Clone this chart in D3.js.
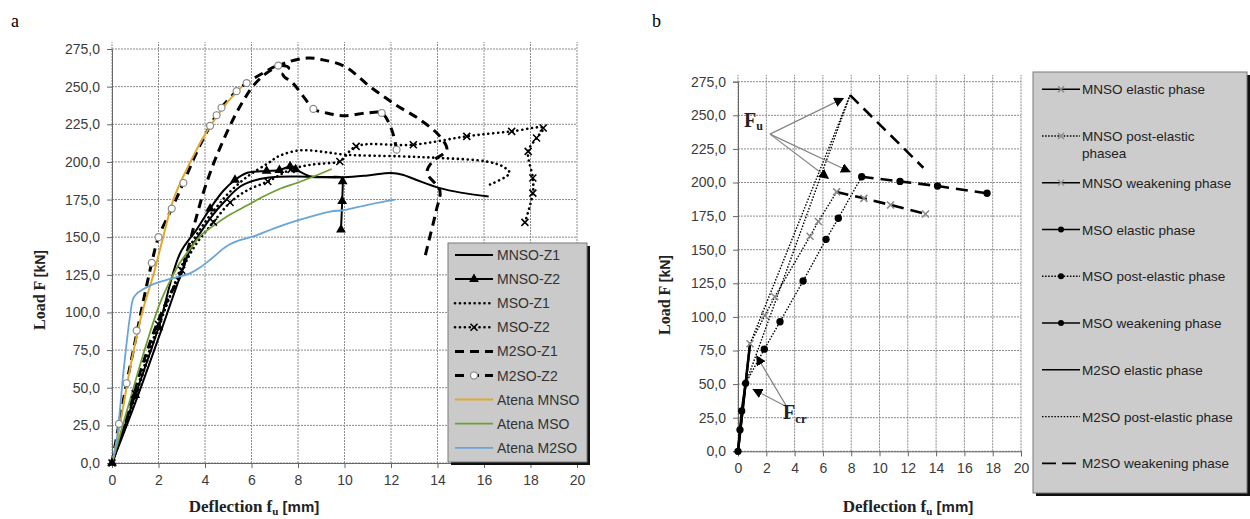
<!DOCTYPE html>
<html>
<head>
<meta charset="utf-8">
<title>Load - deflection curves</title>
<script src="https://cdn.jsdelivr.net/npm/d3@7"></script>
<style>
  body { margin: 0; background: #fff; }
  svg { display: block; font-family: "Liberation Sans", Arial, sans-serif; }
</style>
</head>
<body>
<svg id="chart" width="1250" height="519"></svg>
<script>
// ---- axis ticks ----
const xTicks = d3.range(0, 21, 2);
const yTicks = d3.range(0, 276, 25);

// ---- panel a : measured curves [deflection mm, load kN] ----
const mnsoZ1 = [[0,0],[1,40],[2,83],[3,127],[3.4,143],[3.8,153],[4.3,164],[4.8,173],[5.5,183.5],[6.2,188],[7,190],[8,190.3],[9,189.8],[10,189.8],[11,191],[12,192.6],[12.5,191.5],[13.1,188],[14.1,182.6],[15,179.6],[16.2,177]];
const mnsoZ2 = [[0,0],[1,45],[2,90],[2.92,139],[3.64,155],[4.22,169],[4.8,181],[5.29,188],[5.79,192.6],[6.65,194],[7.2,194.5],[7.66,197],[7.9,195],[8.5,190.5],[9.2,190],[9.88,189.5],[9.92,187],[9.9,174],[9.85,155]];
const mnsoZ2Marks = [[0,0],[1,45],[2,90],[4.22,169],[5.29,188],[6.65,194],[7.2,194.5],[7.66,197],[7.9,195],[9.92,187],[9.9,174],[9.85,155]];
const msoZ1 = [[0,0],[1,44],[2,90],[3,131],[3.5,148],[4,160],[4.5,170],[5,179],[5.8,190],[6.7,199],[7.2,204],[8.1,207.7],[9.4,206],[10,204.8],[12.4,203.7],[14.1,202.6],[16.1,200.3],[16.8,197],[17.1,192.6],[16.26,185]];
const msoZ2 = [[0,0],[1,46],[2,92],[3,128],[3.6,145],[4.36,160],[5.08,173],[5.8,181],[6.7,187],[7.7,195],[8.5,198],[9.4,199.3],[9.8,200.3],[10.5,210.3],[12.96,211.4],[15.26,217],[17.19,220.3],[18.55,222.5],[18.26,215.9],[17.9,207],[18.1,189.3],[18.1,179.3],[17.76,159.8]];
const msoZ2Marks = [[0,0],[1,46],[2,92],[3,128],[4.36,160],[5.08,173],[6.7,187],[7.7,195],[9.8,200.3],[10.5,210.3],[12.96,211.4],[15.26,217],[17.19,220.3],[18.55,222.5],[18.26,215.9],[17.9,207],[18.1,189.3],[18.1,179.3],[17.76,159.8]];
const m2soZ1 = [[0,0],[0.5,24],[1,50],[1.5,74],[2,95],[2.5,112],[2.92,124],[3.3,144],[3.64,164],[4,183],[4.5,204],[5.2,228],[5.7,242],[6.1,251],[6.65,259],[7.5,266],[8.4,269],[9,268],[10,263.5],[11.1,250],[12.2,238],[13.25,228],[14.1,217],[14.4,208],[13.8,200.5],[13.55,193],[14.1,181],[13.95,168],[13.7,152],[13.46,137]];
const m2soZ2 = [[0,0],[0.3,26],[0.63,53],[0.92,75],[1.3,104],[1.71,133],[2,150],[2.57,169],[3.07,186],[3.6,205],[4.22,224],[4.65,235],[5.36,247],[5.79,252.4],[6.5,259],[7.15,264],[7.6,262.5],[7.35,258],[7.8,252],[8.3,242],[8.66,235.2],[9.23,232.5],[10,230.7],[10.95,232.5],[11.6,232.5],[12.03,221.4],[12.24,208.1]];
const m2soZ2Marks = [[0.3,26],[0.63,53],[1.06,88],[1.71,133],[2,150],[2.57,169],[3.07,186],[4.22,224],[4.5,231],[4.71,236],[5.36,247],[5.79,252.4],[7.15,264],[8.66,235.2],[11.6,232.5],[12.24,208.1]];
// numerical (Atena) curves
const atenaMnso = [[0,0],[0.3,22],[0.6,48],[0.92,74],[1.3,100],[1.78,125],[2.2,150],[2.64,175],[3.21,195],[3.6,207],[4.07,220],[4.5,230],[4.93,239],[5.58,250]];
const atenaMso = [[0,0],[0.5,27],[1,54],[1.5,80],[2.06,106],[2.5,121],[2.92,133],[3.4,143],[3.78,150.5],[4.4,158],[5.08,165],[5.8,171],[6.51,177],[7.2,182],[7.94,186],[8.7,190.5],[9.45,195.3]];
const atenaM2so = [[0,0],[0.2,15],[0.49,60],[0.77,97],[0.92,109.5],[1.1,113],[1.35,115.5],[1.8,119],[2.35,121.7],[3.35,126],[3.8,130],[4.3,136],[4.93,144],[5.5,148],[6.08,150.5],[7,156],[8.09,161.6],[9.38,167],[10,168],[11,171.5],[12.17,174.9]];

// ---- panel b : phases ----
const mnsoElastic = [[0,0],[0.85,80]];
const mnsoPost = [[0.85,80],[1.9,101],[2.6,115],[5.09,160],[5.68,171],[6.97,193]];
const mnsoWeak = [[6.97,193],[8.9,188.2],[10.78,183.3],[13.25,176.6]];
const msoElastic = [[0,0],[0.14,16],[0.26,30],[0.54,50.6]];
const msoPost = [[0.54,50.6],[1.86,76],[2.97,96.4],[4.6,126.7],[6.22,157.7],[7.09,173.4],[8.74,204.3]];
const msoWeak = [[8.74,204.3],[11.45,200.8],[14.1,197.4],[17.6,192]];
const m2soElastic = [[0,0],[0.85,80]];
const m2soPost = [[0.85,80],[7.92,265]];
const m2soPostB = [[0.6,52],[7.92,265]];
const m2soWeak = [[7.92,265],[13.1,211]];
// annotation arrows: from label point to target [x, F]
const fuFrom = [2.26,236];
const fuTargets = [[7.44,262.6],[6.38,203.1],[7.92,208]];
const fcrFrom = [3.44,33.2];
const fcrTargets = [[1.32,70.9],[1.08,46.1]];

const legendA = ['MNSO-Z1','MNSO-Z2','MSO-Z1','MSO-Z2','M2SO-Z1','M2SO-Z2','Atena MNSO','Atena MSO','Atena M2SO'];
const legendB = ['MNSO elastic phase','MNSO post-elastic|phasea','MNSO weakening phase','MSO elastic phase','MSO post-elastic phase','MSO weakening phase','M2SO elastic phase','M2SO post-elastic phase','M2SO weakening phase'];

const fmt = d => d.toFixed(1).replace('.', ',');
const svg = d3.select('#chart');

const xA = d3.scaleLinear().domain([0, 20]).range([112, 577]);
const yA = d3.scaleLinear().domain([0, 275]).range([463, 49]);
const xB = d3.scaleLinear().domain([0, 20]).range([738, 1021]);
const yB = d3.scaleLinear().domain([0, 275]).range([451.3, 81.7]);

const YELLOW = '#e2a82c', GREEN = '#6f9e33', BLUE = '#6aa5da';

function frame(x, y, topExtra) {
  const g = svg.append('g');
  g.selectAll('line.v').data(xTicks).join('line')
    .attr('x1', d => x(d)).attr('x2', d => x(d))
    .attr('y1', y(0)).attr('y2', y(275) - topExtra)
    .attr('stroke', '#8c8c8c').attr('stroke-dasharray', '2,1');
  g.selectAll('line.h').data(yTicks).join('line')
    .attr('x1', x(0)).attr('x2', x(20))
    .attr('y1', d => y(d)).attr('y2', d => y(d))
    .attr('stroke', '#8c8c8c').attr('stroke-dasharray', '2,1');
  const ax = g.append('g').attr('transform', `translate(0,${y(0)})`)
    .call(d3.axisBottom(x).tickValues(xTicks).tickSize(5).tickPadding(7));
  const ay = g.append('g').attr('transform', `translate(${x(0)},0)`)
    .call(d3.axisLeft(y).tickValues(yTicks).tickFormat(fmt).tickSize(5).tickPadding(7));
  [ax, ay].forEach(a => {
    a.selectAll('path,line').attr('stroke', '#666');
    a.selectAll('text').attr('font-size', 14).attr('fill', '#3c3c3c')
      .attr('font-family', '"Liberation Sans", Arial, sans-serif');
  });
  return g;
}

function axisTitles(cx, cy, yx, yy) {
  const t = svg.append('text').attr('x', cx).attr('y', cy).attr('text-anchor', 'middle').attr('fill', '#222');
  t.append('tspan').attr('font-family', '"Liberation Serif", serif').attr('font-weight', 'bold').attr('font-size', 17).text('Deflection f');
  t.append('tspan').attr('font-family', '"Liberation Serif", serif').attr('font-weight', 'bold').attr('font-size', 11).attr('dy', 3).text('u');
  t.append('tspan').attr('font-weight', 'bold').attr('font-size', 15).attr('dy', -3).text(' [mm]');
  const r = svg.append('text').attr('transform', `translate(${yx},${yy}) rotate(-90)`).attr('text-anchor', 'middle').attr('fill', '#222');
  r.append('tspan').attr('font-family', '"Liberation Serif", serif').attr('font-weight', 'bold').attr('font-size', 16).text('Load F ');
  r.append('tspan').attr('font-weight', 'bold').attr('font-size', 14).text('[kN]');
}

function lineStyle(sel, st) {
  sel.attr('fill', 'none').attr('stroke', st.color || '#000').attr('stroke-width', st.width || 2)
    .attr('stroke-linejoin', 'round');
  if (st.dash) sel.attr('stroke-dasharray', st.dash);
  if (st.cap) sel.attr('stroke-linecap', st.cap);
  return sel;
}

function marks(g, pts, x, y, type, color) {
  const sel = g.append('g').selectAll('path').data(pts).join('path')
    .attr('transform', d => `translate(${x(d[0])},${y(d[1])})`);
  if (type === 'tri') sel.attr('d', d3.symbol(d3.symbolTriangle, 42)).attr('fill', '#000');
  if (type === 'x') sel.attr('d', 'M-3.5,-3.5L3.5,3.5M-3.5,3.5L3.5,-3.5').attr('fill', 'none')
    .attr('stroke', color || '#000').attr('stroke-width', 1.6);
  if (type === 'circle') sel.attr('d', d3.symbol(d3.symbolCircle, 38)).attr('fill', '#fff')
    .attr('stroke', '#888').attr('stroke-width', 1.2);
  if (type === 'dot') sel.attr('d', d3.symbol(d3.symbolCircle, 42)).attr('fill', '#000');
}

// ================= panel a =================
frame(xA, yA, 7);
axisTitles(254, 512, 45, 290);

const solid = {width: 2};
const dotted = {width: 2.6, dash: '0.1,4.8', cap: 'round'};
const dashed = {width: 3, dash: '9,6'};
const seriesA = [
  {data: mnsoZ1, st: solid},
  {data: mnsoZ2, st: solid, mk: mnsoZ2Marks, type: 'tri'},
  {data: msoZ1, st: dotted},
  {data: msoZ2, st: dotted, mk: msoZ2Marks, type: 'x'},
  {data: m2soZ1, st: dashed},
  {data: m2soZ2, st: dashed, mk: m2soZ2Marks, type: 'circle'},
  {data: atenaMnso, st: {color: YELLOW, width: 2}},
  {data: atenaMso, st: {color: GREEN, width: 1.8}},
  {data: atenaM2so, st: {color: BLUE, width: 1.8}}
];
const lineA = d3.line().x(d => xA(d[0])).y(d => yA(d[1])).curve(d3.curveCatmullRom.alpha(0.5));
const gA = svg.append('g');
seriesA.forEach(s => lineStyle(gA.append('path').attr('d', lineA(s.data)), s.st));
seriesA.forEach(s => { if (s.mk) marks(gA, s.mk, xA, yA, s.type); });

// legend a
const lgA = svg.append('g');
lgA.append('rect').attr('x', 451).attr('y', 246).attr('width', 139).attr('height', 219).attr('fill', '#111');
lgA.append('rect').attr('x', 448).attr('y', 243).attr('width', 139).attr('height', 219)
  .attr('fill', '#cacaca').attr('stroke', '#7a7a7a');
legendA.forEach((name, i) => {
  const yy = 255 + i * 24.1;
  const s = seriesA[i];
  lineStyle(lgA.append('line').attr('x1', 455).attr('x2', 493).attr('y1', yy).attr('y2', yy), s.st);
  if (s.type) marks(lgA, [[474, yy]], d => d, d => d, s.type);
  lgA.append('text').attr('x', 497).attr('y', yy + 5).attr('font-size', 14).attr('fill', '#333').text(name);
});

// ================= panel b =================
frame(xB, yB, 6.7);
axisTitles(908, 512, 670, 295);

const lineB = d3.line().x(d => xB(d[0])).y(d => yB(d[1]));
const gB = svg.append('g');
const fine = {width: 1.4, dash: '1.5,1.6'};
const weak = {width: 2.6, dash: '12,7'};
lineStyle(gB.append('path').attr('d', lineB(m2soPostB)), fine);
lineStyle(gB.append('path').attr('d', lineB(m2soPost)), fine);
lineStyle(gB.append('path').attr('d', lineB(mnsoPost)), fine);
lineStyle(gB.append('path').attr('d', lineB(msoPost)), fine);
lineStyle(gB.append('path').attr('d', lineB(m2soWeak)), weak);
lineStyle(gB.append('path').attr('d', lineB(mnsoWeak)), weak);
lineStyle(gB.append('path').attr('d', lineB(msoWeak)), weak);
lineStyle(gB.append('path').attr('d', lineB(m2soElastic)), {width: 2.4});
lineStyle(gB.append('path').attr('d', lineB(mnsoElastic)), {width: 2.4});
lineStyle(gB.append('path').attr('d', lineB(msoElastic)), {width: 2.4});
marks(gB, mnsoPost.concat(mnsoWeak.slice(1)), xB, yB, 'x', '#8a8a8a');
marks(gB, msoElastic.concat(msoPost.slice(1), msoWeak.slice(1)), xB, yB, 'dot');

// arrows
svg.append('defs').append('marker').attr('id', 'arr').attr('viewBox', '0 0 10 10')
  .attr('refX', 9).attr('refY', 5).attr('markerWidth', 10).attr('markerHeight', 10)
  .attr('markerUnits', 'userSpaceOnUse').attr('orient', 'auto')
  .append('path').attr('d', 'M0,0L10,5L0,10Z').attr('fill', '#000');
[[fuFrom, fuTargets], [fcrFrom, fcrTargets]].forEach(([from, tg]) => {
  tg.forEach(t => {
    svg.append('line').attr('x1', xB(from[0])).attr('y1', yB(from[1]))
      .attr('x2', xB(t[0])).attr('y2', yB(t[1]))
      .attr('stroke', '#858585').attr('stroke-width', 1.2).attr('marker-end', 'url(#arr)');
  });
});
const fu = svg.append('text').attr('x', 744).attr('y', 127).attr('font-family', '"Liberation Serif", serif').attr('font-weight', 'bold').attr('fill', '#222');
fu.append('tspan').attr('font-size', 20).text('F');
fu.append('tspan').attr('font-size', 12).attr('dy', 3).text('u');
const fcr = svg.append('text').attr('x', 783).attr('y', 419).attr('font-family', '"Liberation Serif", serif').attr('font-weight', 'bold').attr('fill', '#222');
fcr.append('tspan').attr('font-size', 20).text('F');
fcr.append('tspan').attr('font-size', 13).attr('dy', 4).text('cr');

// legend b
const lgB = svg.append('g');
lgB.append('rect').attr('x', 1036).attr('y', 75).attr('width', 214).attr('height', 421).attr('fill', '#111');
lgB.append('rect').attr('x', 1033).attr('y', 72).attr('width', 214).attr('height', 421)
  .attr('fill', '#cccccc').attr('stroke', '#7a7a7a');
const legStyleB = [
  {st: {width: 1.5}, mk: 'x', c: '#8a8a8a'},
  {st: fine, mk: 'x', c: '#8a8a8a'},
  {st: {width: 1.5}, mk: 'x', c: '#9a9a9a'},
  {st: {width: 1.5}, mk: 'dot'},
  {st: fine, mk: 'dot'},
  {st: {width: 1.5}, mk: 'dot'},
  {st: {width: 1.5}},
  {st: {width: 1.2, dash: '1.5,1.6'}},
  {st: {width: 1.8, dash: '14,6'}}
];
legendB.forEach((name, i) => {
  const yy = 89.3 + i * 46.75;
  const s = legStyleB[i];
  lineStyle(lgB.append('line').attr('x1', 1042).attr('x2', 1080).attr('y1', yy).attr('y2', yy), s.st);
  if (s.mk === 'x') lgB.append('path').attr('d', 'M-3,-3L3,3M-3,3L3,-3').attr('transform', `translate(1061,${yy})`)
    .attr('stroke', s.c).attr('stroke-width', 1.5);
  if (s.mk === 'dot') lgB.append('circle').attr('cx', 1061).attr('cy', yy).attr('r', 3).attr('fill', '#000');
  const t = lgB.append('text').attr('x', 1082).attr('y', yy + 5).attr('font-size', 13.5).attr('fill', '#222');
  name.split('|').forEach((part, k) => t.append('tspan').attr('x', 1082).attr('dy', k ? 16.7 : 0).text(part));
});

// panel letters
svg.append('text').attr('x', 11).attr('y', 27).attr('font-family', '"Liberation Serif", serif').attr('font-size', 18).text('a');
svg.append('text').attr('x', 652).attr('y', 27).attr('font-family', '"Liberation Serif", serif').attr('font-size', 18).text('b');
</script>
</body>
</html>
